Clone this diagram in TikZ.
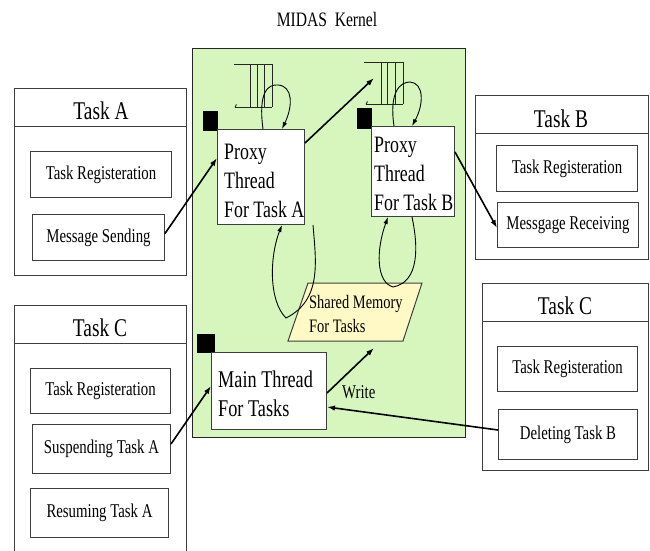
\documentclass[tikz,border=0pt]{standalone}
\usepackage{fontspec}
\setmainfont{Liberation Serif}[FakeStretch=0.76]
\usetikzlibrary{arrows.meta,calc}

\definecolor{kernelgreen}{RGB}{214,246,190}
\definecolor{memyellow}{RGB}{255,249,198}
\definecolor{edgegray}{RGB}{62,62,62}

\newcommand{\tsz}[2]{\fontsize{#1}{#2}\selectfont}
\newcommand{\stacklines}[1]{\begin{tabular}[t]{@{}l@{}}#1\end{tabular}}

\tikzset{
  box/.style={draw=edgegray, line width=1pt, fill=white, inner sep=0pt, anchor=north west},
  rule/.style={draw=edgegray, line width=1pt},
  tasktitle/.style={font=\tsz{25.5}{30}, anchor=base, inner sep=0pt},
  op/.style={box, font=\tsz{19.5}{23}, align=center},
  threadtext/.style={font=\tsz{23.5}{29}, anchor=base west, inner sep=0pt},
  memtext/.style={font=\tsz{19}{24}, anchor=base west, inner sep=0pt},
  marker/.style={fill=black, draw=none, inner sep=0pt, anchor=north west},
  queue/.style={draw=none, inner sep=0pt, anchor=north west},
  qline/.style={draw=black!85, line width=0.9pt},
  flow/.style={line width=1.6pt, -{Latex[length=8pt,width=5.5pt]}},
  loopline/.style={line width=0.9pt},
  loopin/.style={loopline, -{Latex[length=7pt,width=4.5pt]}},
}

\begin{document}
\begin{tikzpicture}[x=1pt,y=-1pt]
\useasboundingbox (0,0) rectangle (650,551);

% ---------- kernel ----------
\node[anchor=base, inner sep=0pt, font=\tsz{20.5}{24}] (title) at (327,27) {MIDAS\ \ Kernel};
\node[draw=black!85, line width=1.2pt, fill=kernelgreen, inner sep=0pt, anchor=north west,
      minimum width=273pt, minimum height=389pt] (kernel) at (192,48) {};

% message queues
\node[queue, minimum width=38pt, minimum height=43pt] (qA) at (234,64) {};
\node[queue, minimum width=39pt, minimum height=42pt] (qB) at (364,62) {};
\draw[qline] (qA.north west) -- (qA.north east);
\draw[qline] ($(qA.south west)+(1,0)$) -- (qA.south east);
\draw[qline] ($(qA.south west)+(1,0)$) -- ++(1.5,-3);
\foreach \dx in {16,23,30,38}
  \draw[qline] ($(qA.north west)+(\dx,0)$) -- ($(qA.south west)+(\dx,0)$);
\draw[qline] (qB.north west) -- (qB.north east);
\draw[qline] ($(qB.south west)+(2,0)$) -- (qB.south east);
\draw[qline] ($(qB.south west)+(2,0)$) -- ++(1.5,-3);
\foreach \dx in {17,23,31,39}
  \draw[qline] ($(qB.north west)+(\dx,0)$) -- ($(qB.south west)+(\dx,0)$);

% threads
\node[marker, minimum width=15pt, minimum height=20pt] (mkA) at (203,111) {};
\node[box, minimum width=87pt, minimum height=95pt] (proxyA) at (217,129) {};
\node[threadtext] (proxyAtext) at (224,159) {\stacklines{Proxy\\Thread\\For Task A}};

\node[marker, minimum width=15pt, minimum height=21pt] (mkB) at (357,108) {};
\node[box, minimum width=83pt, minimum height=90pt] (proxyB) at (371,126) {};
\node[threadtext] (proxyBtext) at (374,152) {\stacklines{Proxy\\Thread\\For Task B}};

\node[marker, minimum width=18pt, minimum height=19pt] (mkM) at (197,334) {};
\node[box, minimum width=115pt, minimum height=77pt] (mainT) at (211,352) {};
\node[threadtext, font=\tsz{24}{29}] (mainTtext) at (218,387) {\stacklines{Main Thread\\For Tasks}};

% shared memory
\coordinate (shmTL) at (308,283);
\coordinate (shmTR) at (422,283);
\coordinate (shmBR) at (403,341);
\coordinate (shmBL) at (288,341);
\draw[draw=edgegray, line width=1pt, fill=memyellow] (shmTL) -- (shmTR) -- (shmBR) -- (shmBL) -- cycle;
\node[memtext] (shmtext) at (309,308) {\stacklines{Shared Memory\\For Tasks}};

% ---------- Task A ----------
\node[box, minimum width=172pt, minimum height=187pt] (taskA) at (14,88) {};
\draw[rule] ($(taskA.north west)+(0,38)$) -- ($(taskA.north east)+(0,38)$);
\node[tasktitle] (taskAtitle) at (101,119) {Task A};
\node[op, minimum width=141pt, minimum height=46pt] (regA) at (30,151) {Task Registeration};
\node[op, minimum width=132pt, minimum height=46pt] (msgA) at (32,214) {Message Sending};

% ---------- Task B ----------
\node[box, minimum width=173pt, minimum height=164pt] (taskB) at (475,95) {};
\draw[rule] ($(taskB.north west)+(0,38)$) -- ($(taskB.north east)+(0,38)$);
\node[tasktitle] (taskBtitle) at (561,127) {Task B};
\node[op, minimum width=141pt, minimum height=46pt] (regB) at (496,145) {Task Registeration};
\node[op, minimum width=141pt, minimum height=45pt] (recvB) at (497,202) {Messgage Receiving};

% ---------- Task C (left) ----------
\node[box, minimum width=172pt, minimum height=260pt] (taskC) at (14,305) {};
\draw[rule] ($(taskC.north west)+(0,38)$) -- ($(taskC.north east)+(0,38)$);
\node[tasktitle] (taskCtitle) at (100,336) {Task C};
\node[op, minimum width=140pt, minimum height=45pt] (regC) at (30,368) {Task Registeration};
\node[op, minimum width=138pt, minimum height=49pt] (suspC) at (32,424) {Suspending Task A};
\node[op, minimum width=138pt, minimum height=49pt] (resC) at (30,488) {Resuming Task A};

% ---------- Task C (right) ----------
\node[box, minimum width=166pt, minimum height=187pt] (taskD) at (482,283) {};
\draw[rule] ($(taskD.north west)+(0,38)$) -- ($(taskD.north east)+(0,38)$);
\node[tasktitle] (taskDtitle) at (565,314) {Task C};
\node[op, minimum width=140pt, minimum height=45pt] (regD) at (497,346) {Task Registeration};
\node[op, minimum width=139pt, minimum height=50pt] (delD) at (498,409) {Deleting Task B};

% ---------- queue loops ----------
\draw[loopin] ($(proxyA.north west)+(46,0)$) .. controls (258,92) and (268,84) .. (278,85)
              .. controls (293,86) and (293,106) .. ($(proxyA.north west)+(65,0)$);
\draw[loopin] ($(proxyB.north west)+(23,0)$) .. controls (389,92) and (400,82) .. (410,82)
              .. controls (424,83) and (424,104) .. ($(proxyB.north west)+(41,0)$);

% ---------- shared memory loops ----------
\draw[loopin] ($(proxyA.south east)+(8,0)$) .. controls (316,262) and (322,300) .. (286,318)
              .. controls (268,300) and (270,255) .. ($(proxyA.south west)+(65,0)$);
\draw[loopin] ($(proxyB.south west)+(41,0)$) .. controls (418,245) and (420,282) .. (393,287)
              .. controls (376,282) and (376,250) .. ($(proxyB.south west)+(17,0)$);

% ---------- messages ----------
\draw[flow] ($(msgA.east)+(0,-4)$) -- ($(proxyA.north west)+(0,29)$);
\draw[flow] ($(proxyA.north east)+(0,14)$) -- ($(qB.north west)+(10,16)$);
\draw[flow] ($(proxyB.north east)+(0,26)$) -- ($(recvB.north west)+(0,26)$);
\draw[flow] ($(suspC.north east)+(0,20)$) -- ($(mainT.north west)+(0,34)$);
\draw[flow] ($(delD.north west)+(0,21)$) -- ($(mainT.north east)+(0,55)$);
\draw[flow] ($(mainT.north east)+(0,41)$) -- ($(shmBL)+(86,7)$);
\node[anchor=base west, inner sep=0pt, font=\tsz{19.5}{23}] (writelabel) at (342,398) {Write};

\end{tikzpicture}
\end{document}
